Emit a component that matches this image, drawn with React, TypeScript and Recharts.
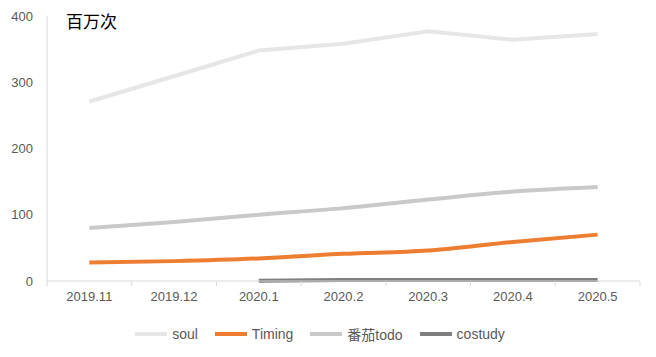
import React from 'react';
import { LineChart, Line, XAxis, YAxis, Legend } from 'recharts';

const months = ['2019.11', '2019.12', '2020.1', '2020.2', '2020.3', '2020.4', '2020.5'];
const soul = [271, 309, 348, 358, 377, 364, 373];
const timing = [28, 30, 34, 41, 46, 59, 70];
const fanqie = [80, 89, 100, 110, 123, 135, 142];
const costudy = [null, null, 0.3, 1.5, 1.5, 1.5, 1.5];
const yTicks = [0, 100, 200, 300, 400];

const series = [
  { key: 'soul', name: 'soul', color: '#E7E6E6', type: 'linear' },
  { key: 'timing', name: 'Timing', color: '#ED7D31', type: 'monotone' },
  { key: 'fanqie', name: '番茄todo', color: '#C9C9C9', type: 'monotone' },
  { key: 'costudy', name: 'costudy', color: '#7F7F7F', type: 'linear' },
];

const data = months.map((m, i) => ({
  month: m,
  soul: soul[i],
  timing: timing[i],
  fanqie: fanqie[i],
  costudy: costudy[i],
}));

const FONT = '"Liberation Sans", "Noto Sans CJK SC", sans-serif';
const W = 656;
const H = 357;
const MARGIN = { top: 16, right: 16, bottom: 22, left: 0 };
const Y_WIDTH = 47;
const TICK_GAP = 11;
// half of one category band, tick marks sit on the band edges
const HALF_BAND = (W - MARGIN.right - MARGIN.left - Y_WIDTH) / months.length / 2;

const MonthTick = (props: any) => {
  const { x, y, payload, index } = props;
  const axisY = y - TICK_GAP;
  return (
    <g>
      <line x1={x - HALF_BAND} x2={x - HALF_BAND} y1={axisY} y2={axisY + 5} stroke="#D9D9D9" />
      {index === months.length - 1 && (
        <line x1={x + HALF_BAND} x2={x + HALF_BAND} y1={axisY} y2={axisY + 5} stroke="#D9D9D9" />
      )}
      <text x={x} y={y} dy="0.71em" textAnchor="middle" fill="#595959" fontSize={13} fontFamily={FONT}>
        {payload.value}
      </text>
    </g>
  );
};

const LegendContent = () => (
  <div style={{ display: 'flex', justifyContent: 'center', gap: 17, fontFamily: FONT, fontSize: 14, color: '#595959' }}>
    {series.map((s) => (
      <div key={s.key} style={{ display: 'flex', alignItems: 'center' }}>
        <span style={{ display: 'inline-block', width: 32, height: 4, background: s.color, marginRight: 5 }} />
        <span>{s.name}</span>
      </div>
    ))}
  </div>
);

const App: React.FC = () => {
  return (
    <div style={{ position: 'absolute', left: 0, top: 0, width: W, height: H, background: '#fff' }}>
      <LineChart width={W} height={H} data={data} margin={MARGIN}>
        <XAxis
          dataKey="month"
          padding={{ left: HALF_BAND, right: HALF_BAND }}
          stroke="#D9D9D9"
          tickLine={false}
          tickSize={0}
          tickMargin={TICK_GAP}
          height={30}
          interval={0}
          tick={<MonthTick />}
        />
        <YAxis
          domain={[0, 400]}
          ticks={yTicks}
          width={Y_WIDTH}
          stroke="#D9D9D9"
          tickLine={false}
          tickSize={0}
          tickMargin={14}
          tick={{ fill: '#595959', fontSize: 13, fontFamily: FONT }}
        />
        <Legend verticalAlign="bottom" height={24} wrapperStyle={{ bottom: 9 }} content={<LegendContent />} />
        {series.map((s) => (
          <Line
            key={s.key}
            dataKey={s.key}
            name={s.name}
            type={s.type as any}
            stroke={s.color}
            strokeWidth={4}
            dot={false}
            activeDot={false}
            isAnimationActive={false}
          />
        ))}
      </LineChart>
      <div style={{ position: 'absolute', left: 66, top: 8, fontSize: 17, fontFamily: '"Noto Sans CJK SC", sans-serif', color: '#000' }}>
        百万次
      </div>
    </div>
  );
};

export default App;
